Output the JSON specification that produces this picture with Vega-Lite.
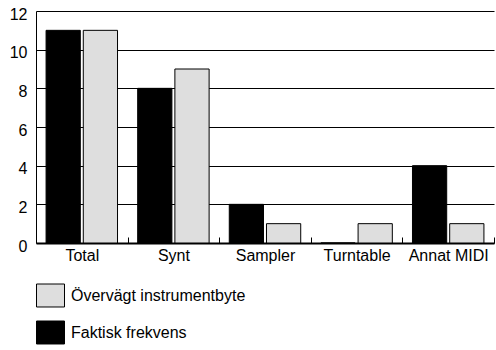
{
  "$schema": "https://vega.github.io/schema/vega-lite/v6.json",
  "width": 458,
  "height": 232,
  "autosize": {"type": "none"},
  "padding": {"left": 36, "top": 11, "right": 2, "bottom": 107},
  "background": "white",
  "config": {
    "font": "Liberation Sans",
    "view": {"stroke": null},
    "axis": {"labelFont": "Liberation Sans", "labelFontSize": 16, "labelColor": "#000"},
    "legend": {"labelFont": "Liberation Sans", "labelFontSize": 16, "labelColor": "#000", "labelLimit": 0}
  },
  "data": {
    "values": [
      {"kategori": "Total", "serie": "Faktisk frekvens", "antal": 11},
      {"kategori": "Total", "serie": "Övervägt instrumentbyte", "antal": 11},
      {"kategori": "Synt", "serie": "Faktisk frekvens", "antal": 8},
      {"kategori": "Synt", "serie": "Övervägt instrumentbyte", "antal": 9},
      {"kategori": "Sampler", "serie": "Faktisk frekvens", "antal": 2},
      {"kategori": "Sampler", "serie": "Övervägt instrumentbyte", "antal": 1},
      {"kategori": "Turntable", "serie": "Faktisk frekvens", "antal": 0},
      {"kategori": "Turntable", "serie": "Övervägt instrumentbyte", "antal": 1},
      {"kategori": "Annat MIDI", "serie": "Faktisk frekvens", "antal": 4},
      {"kategori": "Annat MIDI", "serie": "Övervägt instrumentbyte", "antal": 1}
    ]
  },
  "mark": {"type": "bar", "stroke": "#000", "strokeWidth": 1},
  "encoding": {
    "x": {
      "field": "kategori",
      "type": "nominal",
      "sort": ["Total", "Synt", "Sampler", "Turntable", "Annat MIDI"],
      "scale": {"paddingInner": 0.22, "paddingOuter": 0.11},
      "axis": {
        "title": null,
        "labelAngle": 0,
        "labelPadding": 10,
        "labelLimit": 0,
        "labelOffset": -45.8,
        "domainColor": "#000",
        "domainWidth": 2,
        "ticks": true,
        "tickOffset": 45.8,
        "tickSize": -6,
        "tickColor": "#000",
        "tickWidth": 1,
        "grid": false
      }
    },
    "xOffset": {
      "field": "serie",
      "type": "nominal",
      "sort": ["Faktisk frekvens", "Övervägt instrumentbyte"],
      "scale": {"paddingInner": 0.08}
    },
    "y": {
      "field": "antal",
      "type": "quantitative",
      "scale": {"domain": [0, 12]},
      "axis": {
        "title": null,
        "values": [0, 2, 4, 6, 8, 10, 12],
        "ticks": false,
        "labelPadding": 9,
        "labelOffset": 3,
        "domainColor": "#000",
        "domainWidth": 1,
        "grid": true,
        "gridColor": "#000",
        "gridWidth": 1,
        "gridOpacity": 1
      }
    },
    "color": {
      "field": "serie",
      "type": "nominal",
      "scale": {
        "domain": ["Övervägt instrumentbyte", "Faktisk frekvens"],
        "range": ["#dedede", "#000000"]
      },
      "legend": {
        "title": null,
        "orient": "none",
        "legendX": 0,
        "legendY": 270,
        "direction": "vertical",
        "padding": 0,
        "symbolType": "M-1,-0.821H1V0.821H-1Z",
        "symbolSize": 784,
        "symbolStrokeColor": "#000",
        "symbolStrokeWidth": 1,
        "symbolOpacity": 1,
        "rowPadding": 9,
        "labelOffset": 6
      }
    }
  }
}
